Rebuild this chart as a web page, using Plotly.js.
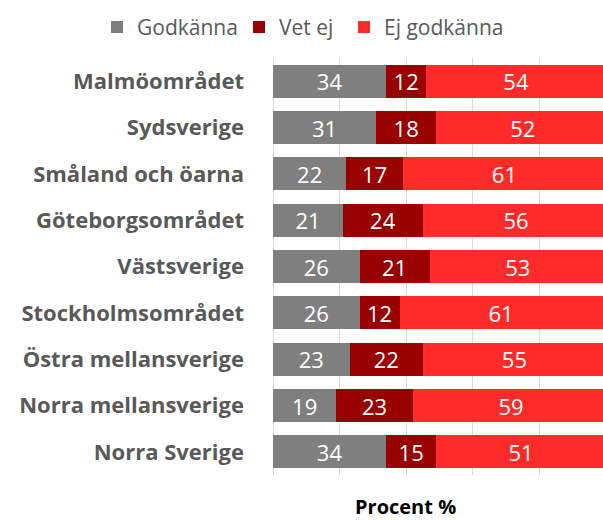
<!DOCTYPE html>
<html><head><meta charset="utf-8">
<script src="https://cdn.plot.ly/plotly-3.0.1.min.js"></script>
<style>body{margin:0;background:#fff}#c{width:603px;height:520px}</style>
</head><body><div id="c"></div>
<script>
const regions = ["Malmöområdet","Sydsverige","Småland och öarna","Göteborgsområdet","Västsverige","Stockholmsområdet","Östra mellansverige","Norra mellansverige","Norra Sverige"];
const godkanna = [34,31,22,21,26,26,23,19,34];
const vetEj = [12,18,17,24,21,12,22,23,15];
const ejGodkanna = [54,52,61,56,53,61,55,59,51];
const seriesNames = ["Godkänna","Vet ej","Ej godkänna"];
const colors = ["#7f7f7f","#990000","#ff2a2a"];
const vals = [godkanna, vetEj, ejGodkanna];
const legendIds = ['legend','legend2','legend3'];
const font = "Open Sans, Liberation Sans, sans-serif";
const traces = vals.map((v,i)=>({
  type:'bar', orientation:'h', y:regions, x:v, name:seriesNames[i], legend:legendIds[i],
  marker:{color:colors[i]}, text:v.map(String), textposition:'inside',
  insidetextanchor:'middle', textangle:0, constraintext:'none',
  textfont:{color:'#ffffff', size:22, family:font}, hoverinfo:'x+name'
}));
const legendX = [97, 239, 344];
const mkLegend = (px)=>({orientation:'h', xref:'container', yref:'container', x:px/603, y:0.987, yanchor:'top', xanchor:'left',
  font:{size:21, color:'#595959', family:font}, itemwidth:30, bgcolor:'rgba(0,0,0,0)'});
const layout = {
  width:603, height:520, barmode:'stack', bargap:0.29,
  margin:{l:273, r:0, t:58, b:45, autoexpand:false},
  paper_bgcolor:'#fff', plot_bgcolor:'#fff',
  font:{family:font, color:'#595959'},
  xaxis:{range:[0,99.1], dtick:20, showgrid:true, gridcolor:'#d9d9d9', gridwidth:1,
    showticklabels:false, zeroline:true, zerolinecolor:'#d9d9d9', ticks:'', fixedrange:true},
  yaxis:{autorange:'reversed', tickfont:{size:22, color:'#595959', family:font, weight:'bold'},
    ticks:'', ticklabelstandoff:28, showgrid:false},
  legend:mkLegend(legendX[0]), legend2:mkLegend(legendX[1]), legend3:mkLegend(legendX[2]),
  annotations:[{text:'<b>Procent %</b>', xref:'paper', yref:'paper', x:0.40, xanchor:'center', y:-0.075, yanchor:'middle',
    showarrow:false, font:{size:20, color:'#000', family:font}}],
  showlegend:true
};
Plotly.newPlot('c', traces, layout, {displayModeBar:false, staticPlot:true});
</script></body></html>
